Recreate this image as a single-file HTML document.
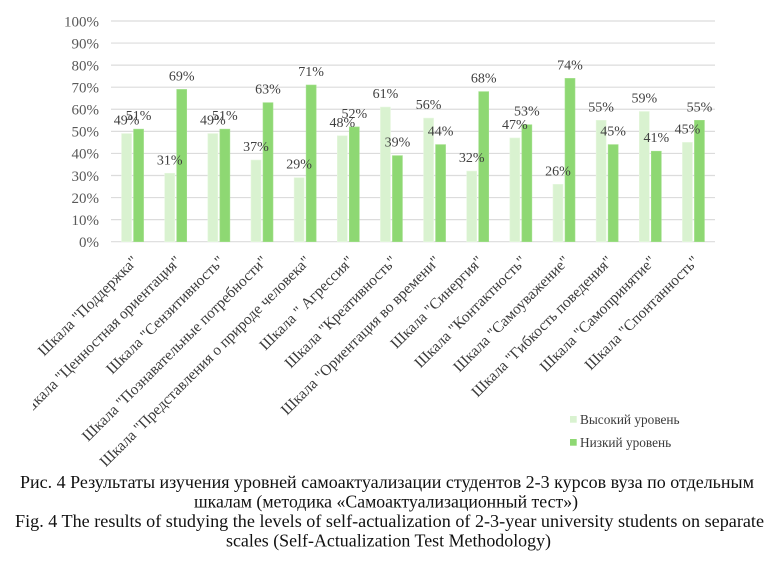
<!DOCTYPE html>
<html>
<head>
<meta charset="utf-8">
<style>
html,body{margin:0;padding:0;background:#fff;}
svg{display:block;}
text{font-family:"Liberation Serif","Noto Serif CJK SC",serif;}
</style>
</head>
<body>
<svg width="776" height="562" viewBox="0 0 776 562" xmlns="http://www.w3.org/2000/svg" font-family="'Liberation Serif', 'Noto Serif CJK SC', serif">
<defs>
<clipPath id="lblclip"><rect x="33" y="240" width="743" height="228"/></clipPath>
</defs>
<rect width="776" height="562" fill="#fff"/>
<!-- gridlines -->
<g stroke="#dcdcdc" stroke-width="1.2">
<line x1="111" y1="21" x2="715" y2="21"/>
<line x1="111" y1="43.07" x2="715" y2="43.07"/>
<line x1="111" y1="65.14" x2="715" y2="65.14"/>
<line x1="111" y1="87.21" x2="715" y2="87.21"/>
<line x1="111" y1="109.28" x2="715" y2="109.28"/>
<line x1="111" y1="131.35" x2="715" y2="131.35"/>
<line x1="111" y1="153.42" x2="715" y2="153.42"/>
<line x1="111" y1="175.49" x2="715" y2="175.49"/>
<line x1="111" y1="197.56" x2="715" y2="197.56"/>
<line x1="111" y1="219.63" x2="715" y2="219.63"/>
<line x1="111" y1="241.7" x2="715" y2="241.7"/>
</g>
<!-- y labels -->
<g font-size="15" fill="#595959" text-anchor="end">
<text x="99" y="26.3">100%</text>
<text x="99" y="48.4">90%</text>
<text x="99" y="70.4">80%</text>
<text x="99" y="92.5">70%</text>
<text x="99" y="114.6">60%</text>
<text x="99" y="136.7">50%</text>
<text x="99" y="158.7">40%</text>
<text x="99" y="180.8">30%</text>
<text x="99" y="202.9">20%</text>
<text x="99" y="224.9">10%</text>
<text x="99" y="247">0%</text>
</g>
<!-- bars light -->
<g fill="#d9f2d0" stroke="#e6f7df" stroke-width="0.6">
<rect x="121.57" y="133.56" width="10" height="108.14"/>
<rect x="164.71" y="173.28" width="10" height="68.42"/>
<rect x="207.86" y="133.56" width="10" height="108.14"/>
<rect x="251" y="160.04" width="10" height="81.66"/>
<rect x="294.14" y="177.7" width="10" height="64"/>
<rect x="337.29" y="135.76" width="10" height="105.94"/>
<rect x="380.43" y="107.07" width="10" height="134.63"/>
<rect x="423.57" y="118.11" width="10" height="123.59"/>
<rect x="466.71" y="171.08" width="10" height="70.62"/>
<rect x="509.86" y="137.97" width="10" height="103.73"/>
<rect x="553" y="184.32" width="10" height="57.38"/>
<rect x="596.14" y="120.31" width="10" height="121.39"/>
<rect x="639.29" y="111.49" width="10" height="130.21"/>
<rect x="682.43" y="142.38" width="10" height="99.32"/>
</g>
<!-- bars dark -->
<g fill="#8ed873" stroke="#a3df8c" stroke-width="0.6">
<rect x="133.57" y="129.14" width="10" height="112.56"/>
<rect x="176.71" y="89.42" width="10" height="152.28"/>
<rect x="219.86" y="129.14" width="10" height="112.56"/>
<rect x="263" y="102.66" width="10" height="139.04"/>
<rect x="306.14" y="85" width="10" height="156.7"/>
<rect x="349.29" y="126.94" width="10" height="114.76"/>
<rect x="392.43" y="155.63" width="10" height="86.07"/>
<rect x="435.57" y="144.59" width="10" height="97.11"/>
<rect x="478.71" y="91.62" width="10" height="150.08"/>
<rect x="521.86" y="124.73" width="10" height="116.97"/>
<rect x="565" y="78.38" width="10" height="163.32"/>
<rect x="608.14" y="144.59" width="10" height="97.11"/>
<rect x="651.29" y="151.21" width="10" height="90.49"/>
<rect x="694.43" y="120.31" width="10" height="121.39"/>
</g>
<!-- data labels -->
<g font-size="14" fill="#404040" text-anchor="middle">
<text x="126.57" y="124.56">49%</text>
<text x="138.57" y="120.14">51%</text>
<text x="169.71" y="164.28">31%</text>
<text x="181.71" y="80.42">69%</text>
<text x="212.86" y="124.56">49%</text>
<text x="224.86" y="120.14">51%</text>
<text x="256" y="151.04">37%</text>
<text x="268" y="93.66">63%</text>
<text x="299.14" y="168.7">29%</text>
<text x="311.14" y="76">71%</text>
<text x="342.29" y="126.76">48%</text>
<text x="354.29" y="117.94">52%</text>
<text x="385.43" y="98.07">61%</text>
<text x="397.43" y="146.63">39%</text>
<text x="428.57" y="109.11">56%</text>
<text x="440.57" y="135.59">44%</text>
<text x="471.71" y="162.08">32%</text>
<text x="483.71" y="82.62">68%</text>
<text x="514.86" y="128.97">47%</text>
<text x="526.86" y="115.73">53%</text>
<text x="558" y="175.32">26%</text>
<text x="570" y="69.38">74%</text>
<text x="601.14" y="111.31">55%</text>
<text x="613.14" y="135.59">45%</text>
<text x="644.29" y="102.49">59%</text>
<text x="656.29" y="142.21">41%</text>
<text x="687.43" y="133.38">45%</text>
<text x="699.43" y="111.31">55%</text>
</g>
<!-- category labels -->
<g font-size="15.4" fill="#3a3a3a" text-anchor="end" clip-path="url(#lblclip)">
<text transform="translate(138.77,262) rotate(-45)">Шкала "Поддержка"</text>
<text transform="translate(181.91,262) rotate(-45)">Шкала "Ценностная ориентация"</text>
<text transform="translate(225.06,262) rotate(-45)">Шкала "Сензитивность"</text>
<text transform="translate(268.2,262) rotate(-45)">Шкала "Познавательные потребности"</text>
<text transform="translate(311.34,262) rotate(-45)">Шкала "Представления о природе человека"</text>
<text transform="translate(354.49,262) rotate(-45)">Шкала " Агрессия"</text>
<text transform="translate(397.63,262) rotate(-45)">Шкала "Креативность"</text>
<text transform="translate(440.77,262) rotate(-45)">Шкала "Ориентация во времени"</text>
<text transform="translate(483.91,262) rotate(-45)">Шкала "Синергия"</text>
<text transform="translate(527.06,262) rotate(-45)">Шкала "Контактность"</text>
<text transform="translate(570.2,262) rotate(-45)">Шкала "Самоуважение"</text>
<text transform="translate(613.34,262) rotate(-45)">Шкала "Гибкость поведения"</text>
<text transform="translate(656.49,262) rotate(-45)">Шкала "Самопринятие"</text>
<text transform="translate(699.63,262) rotate(-45)">Шкала "Спонтанность"</text>
</g>
<!-- legend -->
<rect x="570" y="416" width="6.7" height="6.7" fill="#d9f2d0"/>
<rect x="570" y="439" width="6.7" height="6.7" fill="#8ed873"/>
<g font-size="13.3" fill="#3a3a3a">
<text x="580" y="424">Высокий уровень</text>
<text x="580" y="447">Низкий уровень</text>
</g>
<!-- caption -->
<g font-size="17.5" fill="#111" text-anchor="middle">
<text x="387" y="488" textLength="734" lengthAdjust="spacingAndGlyphs">Рис. 4 Результаты изучения уровней самоактуализации студентов 2-3 курсов вуза по отдельным</text>
<text x="386" y="507.5" textLength="384" lengthAdjust="spacingAndGlyphs">шкалам (методика «Самоактуализационный тест»)</text>
<text x="389.5" y="527" textLength="749" lengthAdjust="spacingAndGlyphs">Fig. 4 The results of studying the levels of self-actualization of 2-3-year university students on separate</text>
<text x="388.5" y="546.5" textLength="325" lengthAdjust="spacingAndGlyphs">scales (Self-Actualization Test Methodology)</text>
</g>
</svg>
</body>
</html>
